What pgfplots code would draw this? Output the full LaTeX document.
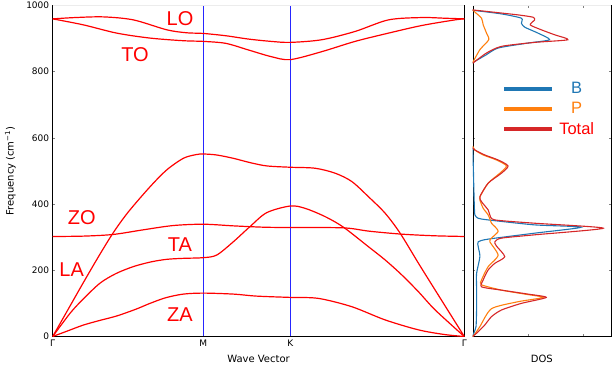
\documentclass[border=0pt]{standalone}
\usepackage{fontspec}
\setmainfont{DejaVu Sans}
\newfontfamily\lab{Liberation Sans}
\usepackage{pgfplots}
\pgfplotsset{compat=1.18}
\definecolor{cB}{HTML}{1F77B4}
\definecolor{cP}{HTML}{FF7F0E}
\definecolor{cT}{HTML}{D62728}
\definecolor{br}{HTML}{FF0000}
\tikzset{brn/.style={br, line width=1.2pt, smooth, mark=none}}
\tikzset{dosl/.style={line width=1.1pt, smooth, tension=0.4, mark=none}}
\begin{document}
\begin{tikzpicture}
\path[use as bounding box] (0,0) rectangle (614pt,366pt);
\begin{axis}[
 at={(52.7pt,29.5pt)}, anchor=south west,
 scale only axis, width=411.6pt, height=331.2pt,
 xmin=0, xmax=2.7321, ymin=0, ymax=1000,
 xtick={0,1,1.5774,2.7321}, xticklabels={Γ,M,K,Γ},
 ytick={0,200,...,1000},
 tick align=inside, major tick length=2.5pt,
 xtick style={draw=none},
 tick label style={font=\fontsize{9}{10}\selectfont},
 /pgf/number format/assume math mode=true,
 /pgf/number format/1000 sep={},
 ylabel={Frequency (cm\textsuperscript{−1})},
 xlabel={Wave Vector},
 label style={font=\fontsize{10}{12}\selectfont},
 ylabel style={at={(axis description cs:-0.103,0.5)},anchor=center},
 xlabel style={at={(axis description cs:0.5,-0.068)},anchor=center},
]
\addplot[blue!85, line width=0.8pt, sharp plot] coordinates {(1,0) (1,1000)};
\addplot[blue!85, line width=0.8pt, sharp plot] coordinates {(1.5774,0) (1.5774,1000)};
% ZA
\addplot[brn] coordinates {(0,0) (0.1,17) (0.2,34) (0.3,47) (0.425,62) (0.55,82) (0.646,100) (0.75,117) (0.867,128) (1,131)
 (1.2,128) (1.35,122) (1.577,118) (1.764,115) (1.985,90) (2.207,50) (2.428,20) (2.6,6) (2.732,0)};
% TA
\addplot[brn] coordinates {(0,0) (0.115,70) (0.2,112) (0.314,161) (0.42,190) (0.535,211) (0.65,225) (0.757,233) (0.87,236) (1,238)
 (1.089,246) (1.199,286) (1.310,332) (1.421,374) (1.577,394) (1.675,387) (1.808,362) (1.930,330) (2.096,271) (2.207,231) (2.317,186) (2.428,135) (2.539,80) (2.732,0)};
% LA
\addplot[brn] coordinates {(0,0) (0.1,80) (0.2,160) (0.3,238) (0.4,312) (0.5,375) (0.646,452) (0.757,503) (0.867,538) (0.95,549) (1,551)
 (1.089,548) (1.199,538) (1.310,525) (1.421,515) (1.577,511) (1.742,508) (1.875,493) (1.985,468) (2.096,422) (2.207,372) (2.306,312) (2.428,221) (2.539,140) (2.732,0)};
% ZO
\addplot[brn] coordinates {(0,302) (0.2,303) (0.4,308) (0.6,322) (0.8,335) (1,339)
 (1.2,334) (1.4,330) (1.577,329) (1.930,328) (2.1,318) (2.317,309) (2.539,304) (2.732,302)};
% TO
\addplot[brn] coordinates {(0,959) (0.203,941) (0.425,916) (0.646,901) (0.867,893) (1,891)
 (1.15,885) (1.3,865) (1.45,845) (1.577,836) (1.786,860) (2.007,891) (2.229,916) (2.450,939) (2.671,956) (2.732,959)};
% LO
\addplot[brn] coordinates {(0,959) (0.15,963) (0.336,965) (0.535,956) (0.757,926) (0.889,917) (1,915)
 (1.15,908) (1.3,898) (1.45,891) (1.577,888) (1.786,896) (2.007,921) (2.229,956) (2.450,963) (2.6,961) (2.732,959)};
\node[br, font=\lab\fontsize{20}{24}\selectfont] at (axis cs:0.845,961) {LO};
\node[br, font=\lab\fontsize{20}{24}\selectfont] at (axis cs:0.546,850) {TO};
\node[br, font=\lab\fontsize{20}{24}\selectfont] at (axis cs:0.193,360) {ZO};
\node[br, font=\lab\fontsize{20}{24}\selectfont] at (axis cs:0.845,276) {TA};
\node[br, font=\lab\fontsize{20}{24}\selectfont] at (axis cs:0.126,201) {LA};
\node[br, font=\lab\fontsize{20}{24}\selectfont] at (axis cs:0.845,65) {ZA};
\draw[gray!15, line width=1pt] (rel axis cs:0,1) -- (rel axis cs:1,1);
\end{axis}

\begin{axis}[
 at={(472.7pt,29.5pt)}, anchor=south west,
 scale only axis, width=138.3pt, height=331.2pt,
 xmin=0, xmax=2.5, ymin=0, ymax=1000,
 xtick={1,2}, xticklabels={},
 ytick={0,200,...,1000}, yticklabels={},
 tick align=inside, major tick length=2.5pt,
 xlabel={DOS},
 label style={font=\fontsize{10}{12}\selectfont},
 xlabel style={at={(axis description cs:0.5,-0.068)},anchor=center},
 legend cell align=center,
 legend style={draw=none, fill=none, at={(axis description cs:0.56,0.687)}, anchor=center,
   font=\lab\fontsize{16.5}{18}\selectfont, row sep=3pt,
   /tikz/every odd column/.append style={column sep=5pt}},
 legend image code/.code={\fill[#1] (0pt,-1.4pt) rectangle (47pt,1.4pt);},
]
\addplot[cB, dosl] coordinates {(0,0) (0.02,10) (0.06,30) (0.07,80) (0.07,148) (0.07,190) (0.13,241) (0.1,271) (0.1,286) (0.28,294) (1.12,312) (1.96,330) (1.12,337) (0.28,352) (0.1,357) (0.04,367) (0.03,392) (0.02,450) (0.01,520) (0,570)};
\addlegendentry{\textcolor{cB}{B}}
\addplot[cP, dosl] coordinates {(0,0) (0.05,10) (0.13,30) (0.34,84) (0.82,105) (1.27,118) (0.94,128) (0.52,140) (0.16,156) (0.16,171) (0.28,211) (0.46,245) (0.31,286) (0.34,297) (0.46,317) (0.40,332) (0.34,342) (0.28,367) (0.19,387) (0.13,412) (0.13,422) (0.28,463) (0.49,493) (0.61,515) (0.43,533) (0.19,548) (0.04,563) (0,575)};
\addlegendentry{\textcolor{cP}{P}}
\addplot[cT, dosl] coordinates {(0,0) (0.1,14.5) (0.22,35) (0.34,60) (0.52,80) (0.88,100) (1.33,118) (1.0,128) (0.52,140) (0.16,150) (0.19,171) (0.28,201) (0.40,221) (0.58,241) (0.43,273) (0.40,286) (0.52,297) (1.12,307) (2.36,327) (1.12,342) (0.40,352) (0.31,367) (0.28,382) (0.16,407) (0.13,422) (0.28,463) (0.52,493) (0.64,515) (0.46,533) (0.22,548) (0.04,563) (0,570)};
\addlegendentry{\textcolor{red}{Total}}
\addplot[cB, dosl, forget plot] coordinates {(0,827) (0.24,850) (0.46,871) (1.0,886) (1.39,896) (1.18,916) (0.94,934) (0.88,946) (0.88,961) (0.52,974) (0,985)};
\addplot[cP, dosl, forget plot] coordinates {(0,827) (0.13,866) (0.29,896) (0.25,916) (0.19,941) (0.16,961) (0.05,978) (0,986)};
\addplot[cT, dosl, forget plot] coordinates {(0,825) (0.25,856) (0.52,876) (1.12,888) (1.72,896) (1.48,911) (1.24,926) (1.04,941) (1.12,956) (1.09,964) (0.82,971) (0.28,981) (0,986)};
\draw[gray!15, line width=1pt] (rel axis cs:0,1) -- (rel axis cs:1,1);
\end{axis}
\end{tikzpicture}
\end{document}
